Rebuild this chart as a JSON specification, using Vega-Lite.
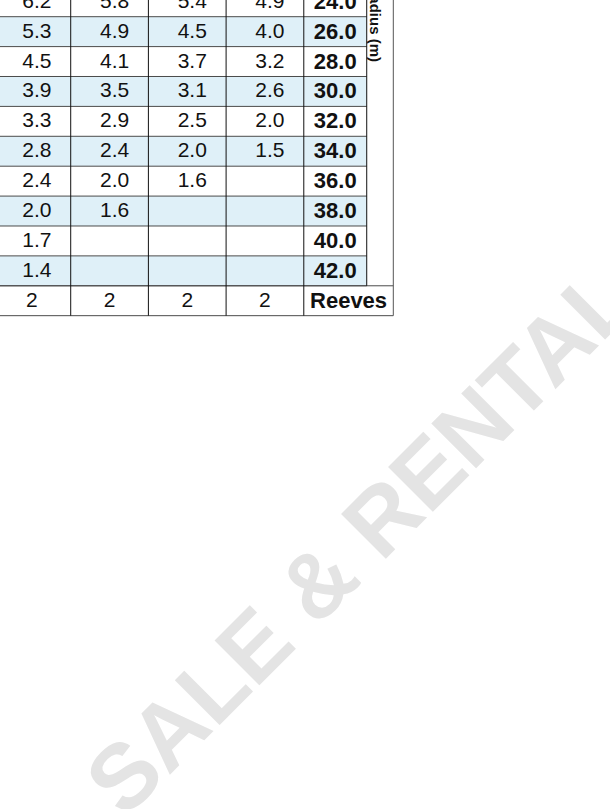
{
  "$schema": "https://vega.github.io/schema/vega-lite/v6.json",
  "width": 610,
  "height": 809,
  "padding": 0,
  "autosize": "none",
  "background": "white",
  "config": {"view": {"stroke": null}, "text": {"font": "Liberation Sans"}},
  "datasets": {
    "cells": [
      {"radius": 24, "col": 1, "load": 6.2}, {"radius": 24, "col": 2, "load": 5.8}, {"radius": 24, "col": 3, "load": 5.4}, {"radius": 24, "col": 4, "load": 4.9},
      {"radius": 26, "col": 1, "load": 5.3}, {"radius": 26, "col": 2, "load": 4.9}, {"radius": 26, "col": 3, "load": 4.5}, {"radius": 26, "col": 4, "load": 4.0},
      {"radius": 28, "col": 1, "load": 4.5}, {"radius": 28, "col": 2, "load": 4.1}, {"radius": 28, "col": 3, "load": 3.7}, {"radius": 28, "col": 4, "load": 3.2},
      {"radius": 30, "col": 1, "load": 3.9}, {"radius": 30, "col": 2, "load": 3.5}, {"radius": 30, "col": 3, "load": 3.1}, {"radius": 30, "col": 4, "load": 2.6},
      {"radius": 32, "col": 1, "load": 3.3}, {"radius": 32, "col": 2, "load": 2.9}, {"radius": 32, "col": 3, "load": 2.5}, {"radius": 32, "col": 4, "load": 2.0},
      {"radius": 34, "col": 1, "load": 2.8}, {"radius": 34, "col": 2, "load": 2.4}, {"radius": 34, "col": 3, "load": 2.0}, {"radius": 34, "col": 4, "load": 1.5},
      {"radius": 36, "col": 1, "load": 2.4}, {"radius": 36, "col": 2, "load": 2.0}, {"radius": 36, "col": 3, "load": 1.6}, {"radius": 36, "col": 4, "load": null},
      {"radius": 38, "col": 1, "load": 2.0}, {"radius": 38, "col": 2, "load": 1.6}, {"radius": 38, "col": 3, "load": null}, {"radius": 38, "col": 4, "load": null},
      {"radius": 40, "col": 1, "load": 1.7}, {"radius": 40, "col": 2, "load": null}, {"radius": 40, "col": 3, "load": null}, {"radius": 40, "col": 4, "load": null},
      {"radius": 42, "col": 1, "load": 1.4}, {"radius": 42, "col": 2, "load": null}, {"radius": 42, "col": 3, "load": null}, {"radius": 42, "col": 4, "load": null}
    ],
    "radii": [
      {"radius": 24}, {"radius": 26}, {"radius": 28}, {"radius": 30}, {"radius": 32},
      {"radius": 34}, {"radius": 36}, {"radius": 38}, {"radius": 40}, {"radius": 42}
    ],
    "reeves": [
      {"col": 1, "reeves": 2}, {"col": 2, "reeves": 2}, {"col": 3, "reeves": 2}, {"col": 4, "reeves": 2}
    ]
  },
  "layer": [
    {
      "data": {"values": [{"label": "SALE & RENTAL"}]},
      "mark": {"type": "text", "angle": -45, "fontSize": 92, "fontWeight": "bold", "color": "#e4e4e4", "align": "center", "baseline": "middle"},
      "encoding": {
        "x": {"datum": 5.26, "type": "quantitative", "scale": {"domain": [0.59, 8.441], "nice": false, "zero": false}, "axis": null},
        "y": {"datum": 60.14, "type": "quantitative", "scale": {"domain": [23.883, 78.0], "nice": false, "zero": false, "reverse": true}, "axis": null},
        "text": {"field": "label"}
      }
    },
    {
      "data": {"name": "cells"},
      "transform": [
        {"calculate": "datum.col - 0.5", "as": "x0"},
        {"calculate": "datum.col + 0.5", "as": "x1"},
        {"calculate": "datum.radius - 1", "as": "y0"},
        {"calculate": "datum.radius + 1", "as": "y1"}
      ],
      "mark": {"type": "rect"},
      "encoding": {
        "x": {"field": "x0", "type": "quantitative"},
        "x2": {"field": "x1"},
        "y": {"field": "y0", "type": "quantitative"},
        "y2": {"field": "y1"},
        "fill": {"condition": {"test": "datum.radius % 4 == 2", "value": "#dff0f8"}, "value": "#ffffff"}
      }
    },
    {
      "data": {"name": "radii"},
      "transform": [
        {"calculate": "datum.radius - 1", "as": "y0"},
        {"calculate": "datum.radius + 1", "as": "y1"}
      ],
      "mark": {"type": "rect"},
      "encoding": {
        "x": {"datum": 4.5, "type": "quantitative"},
        "x2": {"datum": 5.31},
        "y": {"field": "y0", "type": "quantitative"},
        "y2": {"field": "y1"},
        "fill": {"condition": {"test": "datum.radius % 4 == 2", "value": "#dff0f8"}, "value": "#ffffff"}
      }
    },
    {
      "data": {"name": "radii"},
      "transform": [{"calculate": "datum.radius + 1", "as": "yb"}],
      "mark": {"type": "rule", "color": "#4a4a4a", "strokeWidth": 1},
      "encoding": {
        "x": {"datum": 0.3, "type": "quantitative"},
        "x2": {"datum": 5.31},
        "y": {"field": "yb", "type": "quantitative"}
      }
    },
    {
      "data": {"values": [{"edge": "reeves top"}, {"edge": "bottom"}]},
      "transform": [{"calculate": "datum.edge == 'bottom' ? 45 : 43", "as": "yb"}],
      "mark": {"type": "rule", "color": "#4a4a4a", "strokeWidth": 1},
      "encoding": {
        "x": {"datum": 0.3, "type": "quantitative"},
        "x2": {"datum": 5.652},
        "y": {"field": "yb", "type": "quantitative"}
      }
    },
    {
      "data": {"name": "reeves"},
      "transform": [{"calculate": "datum.col + 0.5", "as": "xb"}],
      "mark": {"type": "rule", "color": "#111111", "strokeWidth": 1},
      "encoding": {
        "x": {"field": "xb", "type": "quantitative"},
        "y": {"datum": 23, "type": "quantitative"},
        "y2": {"datum": 45}
      }
    },
    {
      "data": {"values": [{"edge": "radius right"}]},
      "mark": {"type": "rule", "color": "#111111", "strokeWidth": 1},
      "encoding": {
        "x": {"datum": 5.31, "type": "quantitative"},
        "y": {"datum": 23, "type": "quantitative"},
        "y2": {"datum": 43}
      }
    },
    {
      "data": {"values": [{"edge": "table right"}]},
      "mark": {"type": "rule", "color": "#555555", "strokeWidth": 1},
      "encoding": {
        "x": {"datum": 5.652, "type": "quantitative"},
        "y": {"datum": 23, "type": "quantitative"},
        "y2": {"datum": 45}
      }
    },
    {
      "data": {"name": "cells"},
      "transform": [{"filter": "datum.load != null"}],
      "mark": {"type": "text", "fontSize": 21, "color": "#111111", "align": "center", "baseline": "middle", "dx": 5},
      "encoding": {
        "x": {"field": "col", "type": "quantitative"},
        "y": {"field": "radius", "type": "quantitative"},
        "text": {"field": "load", "type": "quantitative", "format": ".1f"}
      }
    },
    {
      "data": {"name": "radii"},
      "mark": {"type": "text", "fontSize": 22, "fontWeight": "bold", "color": "#111111", "align": "center", "baseline": "middle"},
      "encoding": {
        "x": {"datum": 4.905, "type": "quantitative"},
        "y": {"field": "radius", "type": "quantitative"},
        "text": {"field": "radius", "type": "quantitative", "format": ".1f"}
      }
    },
    {
      "data": {"name": "reeves"},
      "mark": {"type": "text", "fontSize": 21, "color": "#111111", "align": "center", "baseline": "middle"},
      "encoding": {
        "x": {"field": "col", "type": "quantitative"},
        "y": {"datum": 44, "type": "quantitative"},
        "text": {"field": "reeves", "type": "quantitative"}
      }
    },
    {
      "data": {"values": [{"label": "Reeves"}]},
      "mark": {"type": "text", "fontSize": 22, "fontWeight": "bold", "color": "#111111", "align": "center", "baseline": "middle"},
      "encoding": {
        "x": {"datum": 5.076, "type": "quantitative"},
        "y": {"datum": 44, "type": "quantitative"},
        "text": {"field": "label"}
      }
    },
    {
      "data": {"values": [{"label": "Radius (m)"}]},
      "mark": {"type": "text", "fontSize": 15, "fontWeight": "bold", "color": "#111111", "align": "center", "baseline": "middle", "angle": 90},
      "encoding": {
        "x": {"datum": 5.42, "type": "quantitative"},
        "y": {"datum": 25.44, "type": "quantitative"},
        "text": {"field": "label"}
      }
    }
  ]
}
